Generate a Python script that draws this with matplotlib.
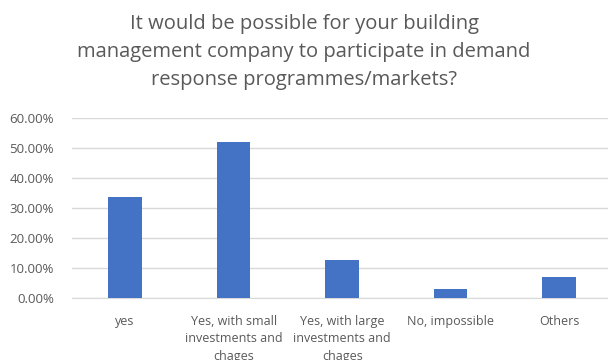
import matplotlib.pyplot as plt
from matplotlib.ticker import PercentFormatter

plt.rcParams['font.family'] = ['Open Sans', 'DejaVu Sans']

categorias = ['yes', 'Yes, with small\ninvestments and\nchages', 'Yes, with large\ninvestments and\nchages',
              'No, impossible', 'Others']
valores = [0.337, 0.52, 0.127, 0.03, 0.07]
titulo = 'It would be possible for your building\nmanagement company to participate in demand\nresponse programmes/markets?'

fig = plt.figure(figsize=(6.08, 3.6), dpi=100)
ax = fig.add_axes([72 / 608, 62 / 360, 536 / 608, 180 / 360])

x = range(len(categorias))
ax.bar(x, valores, width=0.31, color='#4472C4', zorder=3)

ax.set_xlim(-0.49, 4.45)
ax.set_ylim(0, 0.6)
ax.set_yticks([0, 0.1, 0.2, 0.3, 0.4, 0.5, 0.6])
ax.yaxis.set_major_formatter(PercentFormatter(1.0, decimals=2))
ax.set_xticks(list(x))
ax.set_xticklabels(categorias, linespacing=1.45)
ax.grid(axis='y', color='#D9D9D9', linewidth=1, zorder=0)

for s in ['top', 'right', 'left']:
    ax.spines[s].set_visible(False)
ax.spines['bottom'].set_color('#D9D9D9')
ax.tick_params(axis='both', length=0, labelcolor='#595959')
ax.tick_params(axis='x', pad=12, labelsize=9)
ax.tick_params(axis='y', pad=13, labelsize=9.5)

fig.text(0.5, 0.962, titulo, ha='center', va='top', fontsize=14.5, color='#595959', linespacing=1.55)

fig.savefig('out.png', dpi=100)
